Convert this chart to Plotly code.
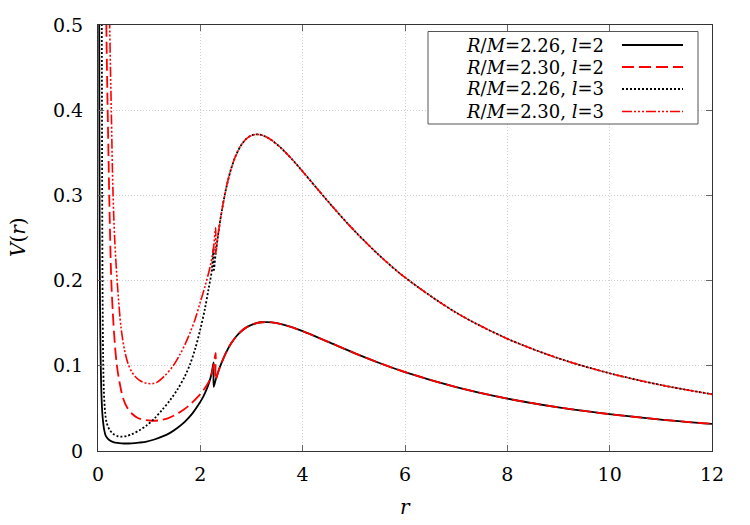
import plotly.graph_objects as go

# ---------------- data ----------------
# exterior part (r >= R), shared by both stellar radii
ext_r = [2.26, 2.30, 2.35, 2.4, 2.5, 2.6, 2.7, 2.8, 2.9, 3.0, 3.1, 3.2, 3.3, 3.4,
         3.6, 3.8, 4.0, 4.5, 5.0, 5.5, 6.0, 7.0, 8.0, 9.0, 10.0, 11.0, 12.0]
ext_v_l2 = [0.0754, 0.0836, 0.0930, 0.1013, 0.1152, 0.1261, 0.1344, 0.1406, 0.1451,
            0.1481, 0.1501, 0.1511, 0.1513, 0.1509, 0.1486, 0.1450, 0.1406, 0.1280,
            0.1152, 0.1033, 0.0926, 0.0750, 0.0615, 0.0512, 0.0432, 0.0369, 0.0318]
ext_v_l3 = [0.2105, 0.2316, 0.2548, 0.2749, 0.3072, 0.3309, 0.3477, 0.3592, 0.3665,
            0.3704, 0.3716, 0.3708, 0.3683, 0.3646, 0.3544, 0.3419, 0.3281, 0.2926,
            0.2592, 0.2295, 0.2037, 0.1624, 0.1318, 0.1088, 0.0912, 0.0775, 0.0666]

# interior parts (r <= R)
in_r_226_l2 = [0.022, 0.026, 0.03, 0.035, 0.04, 0.05, 0.06, 0.07, 0.085, 0.1, 0.12, 0.15,
               0.19, 0.24, 0.3, 0.38, 0.46, 0.55, 0.65, 0.8, 0.95, 1.1, 1.25, 1.4, 1.55,
               1.7, 1.85, 1.95, 2.05, 2.12, 2.18, 2.22, 2.26]
in_v_226_l2 = [0.56, 0.40, 0.30, 0.22, 0.17, 0.115, 0.082, 0.062, 0.044, 0.034, 0.025, 0.018,
               0.0145, 0.012, 0.0105, 0.0095, 0.009, 0.0088, 0.009, 0.0098, 0.011, 0.0135,
               0.0168, 0.021, 0.027, 0.0345, 0.0445, 0.053, 0.063, 0.072, 0.082, 0.091, 0.104]

in_r_230_l2 = [0.15, 0.163, 0.18, 0.195, 0.21, 0.23, 0.26, 0.29, 0.33, 0.37, 0.42, 0.49,
               0.57, 0.66, 0.77, 0.9, 1.05, 1.2, 1.35, 1.5, 1.65, 1.8, 1.95, 2.05, 2.12,
               2.18, 2.22, 2.26, 2.30]
in_v_230_l2 = [0.6, 0.5, 0.43, 0.38, 0.33, 0.27, 0.2, 0.162, 0.125, 0.1, 0.081, 0.062,
               0.051, 0.044, 0.039, 0.0365, 0.0355, 0.036, 0.038, 0.042, 0.0475, 0.0545,
               0.0635, 0.0705, 0.0765, 0.083, 0.0905, 0.101, 0.115]

in_r_226_l3 = [0.07, 0.076, 0.082, 0.09, 0.1, 0.115, 0.14, 0.17, 0.23, 0.3, 0.38, 0.46,
               0.55, 0.65, 0.8, 0.95, 1.1, 1.25, 1.4, 1.55, 1.7, 1.8, 1.9, 2.0, 2.09,
               2.16, 2.22, 2.26]
in_v_226_l3 = [0.6, 0.45, 0.3, 0.18, 0.11, 0.07, 0.045, 0.033, 0.0245, 0.02, 0.0175, 0.0168,
               0.0175, 0.0195, 0.024, 0.03, 0.038, 0.048, 0.059, 0.072, 0.088, 0.102,
               0.12, 0.143, 0.167, 0.19, 0.21, 0.238]

in_r_230_l3 = [0.2, 0.228, 0.26, 0.29, 0.325, 0.38, 0.45, 0.52, 0.59, 0.67, 0.75, 0.85,
               0.95, 1.05, 1.15, 1.3, 1.47, 1.6, 1.7, 1.8, 1.9, 1.99, 2.1, 2.19, 2.25, 2.30]
in_v_230_l3 = [0.62, 0.5, 0.4, 0.31, 0.25, 0.195, 0.145, 0.118, 0.102, 0.092, 0.086, 0.0815,
               0.0795, 0.079, 0.0805, 0.088, 0.1, 0.113, 0.125, 0.139, 0.155, 0.173,
               0.195, 0.216, 0.235, 0.262]

labels = ["<i>R</i>/<i>M</i>=2.26, <i>l</i>=2",
          "<i>R</i>/<i>M</i>=2.30, <i>l</i>=2",
          "<i>R</i>/<i>M</i>=2.26, <i>l</i>=3",
          "<i>R</i>/<i>M</i>=2.30, <i>l</i>=3"]

x_tickvals = [0, 2, 4, 6, 8, 10, 12]
x_ticktext = ["0", "2", "4", "6", "8", "10", "12"]
y_tickvals = [0, 0.1, 0.2, 0.3, 0.4, 0.5]
y_ticktext = ["0", "0.1", "0.2", "0.3", "0.4", "0.5"]

# ---------------- styles ----------------
FONT = "DejaVu Serif"
styles = [
    dict(color="black", width=1.8, dash="solid"),
    dict(color="red", width=1.8, dash="12px,5px"),
    dict(color="black", width=1.8, dash="2px,2px"),
    dict(color="red", width=1.6, dash="10px,2px,2px,2px,2px,2px,2px,2px"),
]

series = [
    (in_r_226_l2 + ext_r[0:], in_v_226_l2 + ext_v_l2[0:]),
    (in_r_230_l2 + ext_r[1:], in_v_230_l2 + ext_v_l2[1:]),
    (in_r_226_l3 + ext_r[0:], in_v_226_l3 + ext_v_l3[0:]),
    (in_r_230_l3 + ext_r[1:], in_v_230_l3 + ext_v_l3[1:]),
]

fig = go.Figure()
for (xs, ys), st, lab in zip(series, styles, labels):
    fig.add_trace(go.Scatter(x=xs, y=ys, mode="lines", name=lab,
                             line=dict(shape="spline", smoothing=0.9, **st),
                             showlegend=False))

# ---------------- manual legend (text left, sample right) ----------------
L, R_, T, B = 98, 712, 25, 451
W, H = R_ - L, B - T
def px(xp): return (xp - L) / W
def py(yp): return (B - yp) / H

shapes = [dict(type="rect", xref="paper", yref="paper",
               x0=px(428), x1=px(698), y0=py(124), y1=py(31.5),
               line=dict(color="#555555", width=1), fillcolor="white", layer="above")]
annotations = []
rows = [45, 67, 89, 111.5]
for lab, st, yr in zip(labels, styles, rows):
    annotations.append(dict(text=lab, xref="paper", yref="paper", x=px(606), y=py(yr),
                            xanchor="right", yanchor="middle", showarrow=False,
                            font=dict(family=FONT, size=18, color="black")))
    shapes.append(dict(type="line", xref="paper", yref="paper",
                       x0=px(622), x1=px(683), y0=py(yr), y1=py(yr),
                       line=dict(color=st["color"], width=st["width"], dash=st["dash"]),
                       layer="above"))

annotations.append(dict(text="<i>r</i>", xref="paper", yref="paper", x=px(405), y=py(507),
                        xanchor="center", yanchor="middle", showarrow=False,
                        font=dict(family=FONT, size=20, color="black")))
annotations.append(dict(text="<i>V</i>(<i>r</i>)", xref="paper", yref="paper", x=px(18), y=py(237),
                        xanchor="center", yanchor="middle", showarrow=False, textangle=-90,
                        font=dict(family=FONT, size=20, color="black")))

axis_common = dict(showline=True, linecolor="#333333", linewidth=1, mirror="allticks",
                   ticks="inside", ticklen=6, tickcolor="#666666", tickwidth=1,
                   showgrid=True, gridcolor="#d0d0d0", griddash="1px,2px", gridwidth=1,
                   zeroline=False, tickfont=dict(family=FONT, size=19, color="black"))

fig.update_layout(
    width=750, height=525,
    margin=dict(l=L, r=750 - R_, t=T, b=525 - B),
    paper_bgcolor="white", plot_bgcolor="white",
    font=dict(family=FONT),
    xaxis=dict(range=[0, 12], tickvals=x_tickvals, ticktext=x_ticktext,
               ticklabelstandoff=6, **axis_common),
    yaxis=dict(range=[0, 0.5], tickvals=y_tickvals, ticktext=y_ticktext,
               ticklabelstandoff=10, **axis_common),
    shapes=shapes, annotations=annotations,
)

fig.write_html("out.html")
